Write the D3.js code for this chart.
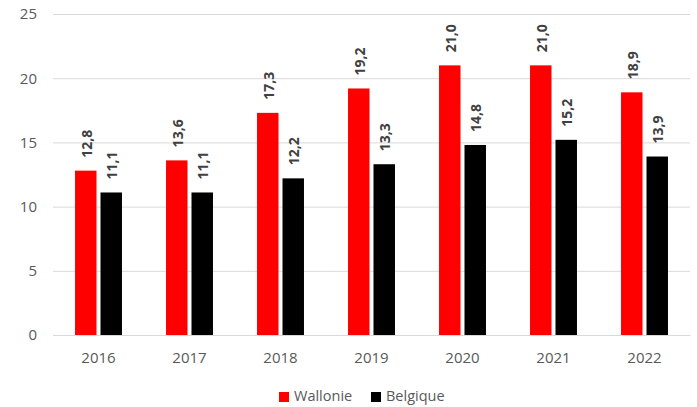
<!DOCTYPE html>
<html><head><meta charset="utf-8">
<script src="https://cdn.jsdelivr.net/npm/d3@7"></script>
<style>body{margin:0;background:#fff}svg{display:block}</style>
</head><body>
<script>
const categories = ["2016","2017","2018","2019","2020","2021","2022"];
const wallonie = [12.8,13.6,17.3,19.2,21.0,21.0,18.9];
const belgique = [11.1,11.1,12.2,13.3,14.8,15.2,13.9];
const seriesNames = ["Wallonie","Belgique"];
const seriesColors = ["#ff0000","#000000"];
const yTicks = [0,5,10,15,20,25];

const W=697,H=407;
const m={l:53,r:7,t:14,b:72};
const font="'Open Sans', sans-serif";
const svg=d3.select("body").append("svg").attr("width",W).attr("height",H);
const x=d3.scaleBand().domain(categories).range([m.l,W-m.r]);
const y=d3.scaleLinear().domain([0,25]).range([H-m.b,m.t]);

const yAxis=svg.append("g").attr("transform",`translate(${m.l},0)`)
  .call(d3.axisLeft(y).tickValues(yTicks).tickSize(-(W-m.l-m.r)).tickPadding(16));
yAxis.select(".domain").remove();
yAxis.selectAll("line").attr("stroke","#d9d9d9").attr("stroke-width",1);
yAxis.selectAll("text").attr("fill","#595959").style("font-family",font).style("font-size","15px");

const xAxis=svg.append("g").attr("transform",`translate(0,${H-m.b})`)
  .call(d3.axisBottom(x).tickSize(0).tickPadding(17));
xAxis.select(".domain").attr("stroke","#d9d9d9");
xAxis.selectAll("text").attr("fill","#595959").style("font-family",font).style("font-size","15px");

const bw=x.bandwidth()*0.236, gap=4;
const data=[wallonie,belgique];
data.forEach((vals,si)=>{
  const off = si===0 ? x.bandwidth()/2 - gap/2 - bw : x.bandwidth()/2 + gap/2;
  const g=svg.append("g");
  g.selectAll("rect").data(vals).join("rect")
    .attr("x",(d,i)=>x(categories[i])+off)
    .attr("y",d=>y(d)).attr("width",bw).attr("height",d=>y(0)-y(d))
    .attr("fill",seriesColors[si]);
  g.selectAll("text").data(vals).join("text")
    .attr("transform",(d,i)=>`translate(${x(categories[i])+off+bw/2+2},${y(d)-13}) rotate(-90)`)
    .attr("dominant-baseline","middle").attr("text-anchor","start")
    .attr("fill","#404040").style("font-family",font).style("font-size","14px").style("font-weight","bold")
    .text(d=>d.toFixed(1).replace(".",","));
});

const leg=svg.append("g");
const legX=[279,371];
seriesNames.forEach((n,i)=>{
  leg.append("rect").attr("x",legX[i]).attr("y",392).attr("width",10).attr("height",10).attr("fill",seriesColors[i]);
  leg.append("text").attr("x",legX[i]+15).attr("y",397).attr("dominant-baseline","middle")
    .attr("fill","#595959").style("font-family",font).style("font-size","14.5px").text(n);
});
</script>
</body></html>
